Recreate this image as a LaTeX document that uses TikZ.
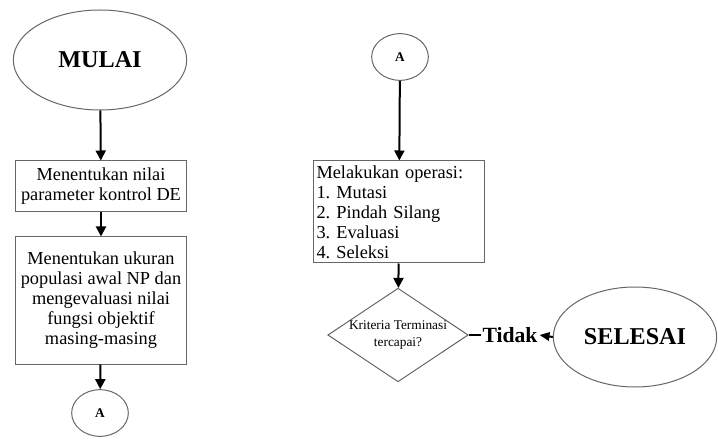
\documentclass[tikz,border=0pt]{standalone}
\usepackage{fontspec}
\setmainfont{Liberation Serif}
\frenchspacing
\usetikzlibrary{shapes.geometric,arrows.meta}

\tikzset{
  terminal/.style={ellipse,draw=black!60,line width=0.6pt,font=\fontsize{14.5}{16}\selectfont\bfseries,inner sep=0pt},
  konektor/.style={ellipse,draw=black!60,line width=0.6pt,font=\fontsize{8}{9}\selectfont\bfseries,inner sep=0pt,minimum width=34pt,minimum height=28pt},
  proses/.style={rectangle,draw=black!60,line width=0.6pt,font=\fontsize{11}{12}\selectfont,inner sep=2pt,minimum width=103pt},
  keputusan/.style={diamond,draw=black!60,line width=0.6pt,font=\fontsize{8}{10}\selectfont,inner sep=0pt,aspect=1.5,align=center},
  alur/.style={line width=1.2pt,-{Triangle[length=6pt,width=6pt]}}
}

\begin{document}
\begin{tikzpicture}[x=0.6pt,y=-0.6pt]
\useasboundingbox (0,0) rectangle (718,441);
\node[terminal,minimum width=104pt,minimum height=60pt] (mulai) at (100,60) {MULAI};
\node[proses,minimum height=30.6pt,align=center] (param) at (101,186.5) {Menentukan nilai\\parameter kontrol DE};
\node[proses,minimum height=76.2pt,align=center] (populasi) at (101,300.5) {Menentukan ukuran\\populasi awal NP dan\\mengevaluasi nilai\\fungsi objektif\\masing-masing};
\node[konektor] (akiri) at (100,413) {A};
\node[konektor] (akanan) at (400,57) {A};
\node[proses,minimum height=61.2pt,align=left,text width=99pt] (operasi) at (399,212) {Melakukan operasi:\\1. Mutasi\\2. Pindah Silang\\3. Evaluasi\\4. Seleksi};
\node[keputusan,minimum width=84pt,minimum height=56pt] (kriteria) at (398,335) {Kriteria Terminasi\\tercapai?};
\node[font=\fontsize{13}{14}\selectfont\bfseries,inner sep=1pt] (tidak) at (510,335) {Tidak};
\node[terminal,minimum width=98pt,minimum height=60pt] (selesai) at (635,337) {SELESAI};

\draw[alur] (mulai) -- (param);
\draw[alur] (param) -- (populasi);
\draw[alur] (populasi) -- (akiri);
\draw[alur] (akanan) -- (operasi);
\draw[alur] (operasi) -- (kriteria);
\draw[line width=1.2pt] (kriteria.east) -- (tidak.west);
\draw[line width=1.2pt,-{Triangle[length=6pt,width=5pt]}] (selesai.west) -- (tidak.east);
\end{tikzpicture}
\end{document}
